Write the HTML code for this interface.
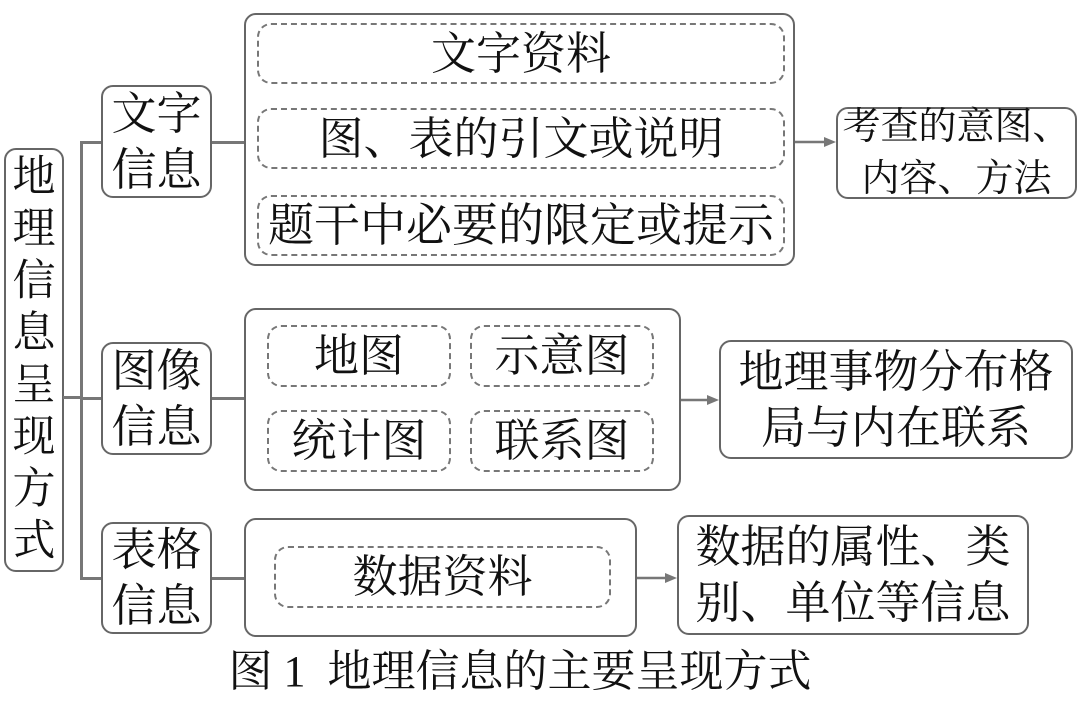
<!DOCTYPE html>
<html><head><meta charset="utf-8"><style>
body{margin:0;width:1080px;height:704px;background:#fff;position:relative;overflow:hidden;font-family:"Liberation Serif","Noto Serif CJK SC",serif;color:#111}
.b{position:absolute;box-sizing:border-box;border:2.5px solid #666;border-radius:12px;display:flex;align-items:center;justify-content:center;text-align:center;font-size:45px;line-height:56px;letter-spacing:0;white-space:nowrap}
.d{border:2px dashed #777;border-radius:14px}
.l{position:absolute;background:#777}
</style></head><body>
<div class="b" style="left:4px;top:148px;width:60px;height:424px;line-height:52px;font-size:43px">地<br>理<br>信<br>息<br>呈<br>现<br>方<br>式</div>
<div class="l" style="left:80px;top:141px;width:2.5px;height:438px"></div>
<div class="l" style="left:63px;top:396px;width:18px;height:2.5px"></div>
<div class="l" style="left:80px;top:141px;width:21px;height:2.5px"></div>
<div class="l" style="left:80px;top:397px;width:21px;height:2.5px"></div>
<div class="l" style="left:80px;top:577px;width:21px;height:2.5px"></div>

<div class="b" style="left:101px;top:85px;width:111px;height:113px">文字<br>信息</div>
<div class="b" style="left:101px;top:342px;width:111px;height:113px">图像<br>信息</div>
<div class="b" style="left:101px;top:522px;width:111px;height:112px">表格<br>信息</div>
<div class="l" style="left:212px;top:141px;width:32px;height:2.5px"></div>
<div class="l" style="left:212px;top:397px;width:32px;height:2.5px"></div>
<div class="l" style="left:212px;top:577px;width:32px;height:2.5px"></div>

<div class="b" style="left:244px;top:13px;width:551px;height:253px"></div>
<div class="b d" style="left:257px;top:23px;width:528px;height:61px">文字资料</div>
<div class="b d" style="left:257px;top:108px;width:528px;height:61px">图、表的引文或说明</div>
<div class="b d" style="left:257px;top:195px;width:528px;height:61px;font-size:46px">题干中必要的限定或提示</div>

<div class="b" style="left:244px;top:308px;width:437px;height:183px"></div>
<div class="b d" style="left:267px;top:325px;width:184px;height:62px">地图</div>
<div class="b d" style="left:470px;top:325px;width:184px;height:62px">示意图</div>
<div class="b d" style="left:267px;top:410px;width:184px;height:62px">统计图</div>
<div class="b d" style="left:470px;top:410px;width:184px;height:62px">联系图</div>

<div class="b" style="left:244px;top:518px;width:393px;height:119px"></div>
<div class="b d" style="left:274px;top:546px;width:337px;height:62px">数据资料</div>

<svg style="position:absolute;left:0;top:0" width="1080" height="704">
<g stroke="#777" stroke-width="2.5" fill="#777">
<line x1="795" y1="142" x2="828" y2="142"/><polygon points="836,142 824,137 824,147" stroke="none"/>
<line x1="681" y1="400" x2="711" y2="400"/><polygon points="719,400 707,395 707,405" stroke="none"/>
<line x1="637" y1="578" x2="669" y2="578"/><polygon points="677,578 665,573 665,583" stroke="none"/>
</g></svg>

<div class="b" style="left:836px;top:107px;width:241px;height:92px;line-height:52px;font-size:38px">考查的意图、<br>内容、方法</div>
<div class="b" style="left:719px;top:340px;width:354px;height:119px">地理事物分布格<br>局与内在联系</div>
<div class="b" style="left:677px;top:515px;width:352px;height:120px">数据的属性、类<br>别、单位等信息</div>

<div style="position:absolute;left:0;width:1080px;top:644px;text-align:center;font-size:44px;line-height:56px;padding-right:40px;box-sizing:border-box;white-space:nowrap">图 1&nbsp; 地理信息的主要呈现方式</div>
</body></html>
